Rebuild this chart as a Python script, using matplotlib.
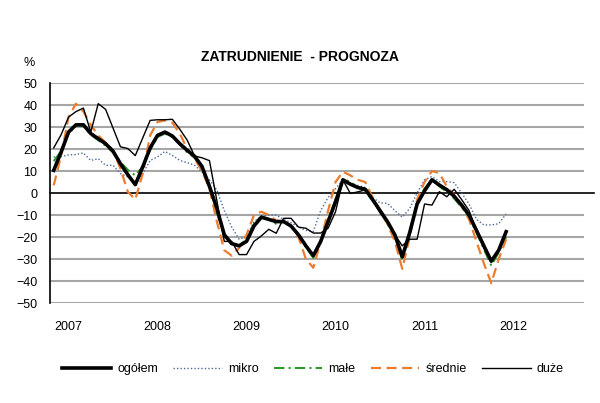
import matplotlib
matplotlib.use("Agg")
import matplotlib.pyplot as plt
import numpy as np

plt.rcParams['font.family'] = ['Liberation Sans', 'DejaVu Sans']

# monthly data, first point = Nov 2006, last = Dec 2011
ogolem = [10.3, 18.6, 27.7, 31, 31, 27, 24.7, 22.4, 19, 13.3, 8.3, 3.8,
          11.8, 20.5, 26.2, 27.7, 25.9, 22.4, 19.4, 16.7, 12, 3, -7, -19,
          -23, -24, -22, -15, -11, -12, -13, -13, -15, -19, -24, -28.5,
          -22, -13, -4, 6, 4, 2.5, 1.7, -3, -8, -13, -19, -29,
          -18, -5, 1, 6, 3.6, 1.5, -1.5, -5.5, -10, -17, -24, -31,
          -26, -17.6]
mikro = [16.4, 16.5, 17.3, 17.5, 18.2, 14.8, 15.6, 12.6, 12.6, 8.8, 7.3, 5,
         8.8, 14.8, 16.4, 18.9, 17.1, 14.8, 13.8, 12.6, 9.5, 6, 1.4, -8,
         -15.5, -21, -19.8, -13, -10.5, -10, -10, -12, -13.5, -15.5, -17, -17.5,
         -8, -2, 2, 6, 4.4, 3.5, 2.5, -2, -4.5, -4.7, -8, -11,
         -7, 0, 6, 7.5, 5.2, 5.2, 4.7, 0, -5, -12, -14.5, -14.5,
         -14, -9.5]
male = [14.5, 19, 27, 30.5, 30.5, 26.5, 24, 21.5, 18.5, 14, 10.5, 8,
        12, 19.5, 25.5, 27, 25.5, 22, 18.5, 16, 11, 3, -9, -19,
        -23.5, -24, -21, -14, -10.5, -12, -14, -13, -15, -19.5, -24.5, -29.5,
        -22, -12, -3, 6.5, 5, 2.5, 1, -3.5, -8.5, -14, -20, -30.5,
        -18, -4, 2, 6, 3, 0.5, -2.5, -6.5, -11, -18, -25.5, -33,
        -27, -20]
srednie = [3.5, 17, 34.5, 40.6, 37, 31, 26.2, 22.9, 19.4, 11, 0.5, -3,
           8.8, 26.2, 32.3, 33, 32, 27, 20, 15.6, 10, 2, -13, -26,
           -28.5, -25, -19, -10, -8.5, -10, -12.5, -13, -15, -20, -30, -34,
           -22, -8, 5, 9.7, 8, 6, 5, -2, -8, -14, -22, -34.5,
           -20, -3, 5, 10, 9, 3, -1, -6, -12, -22, -32, -41,
           -30, -21]
duze = [20.5, 26.5, 34.5, 37, 38.6, 27.7, 40.6, 38, 29.5, 21, 20.2, 17,
        25, 33, 33.3, 33.3, 33.5, 29, 24, 16.8, 16, 14.7, -3.5, -22,
        -22, -28, -28, -22, -19.5, -16.5, -18.3, -11.5, -11.5, -15.5, -16, -18.2,
        -18.2, -16, -8.5, 5.9, -0.2, 0.5, 1.4, -3, -9, -13, -19, -24,
        -21, -21, -5, -5.5, 0.6, -1.7, 1.7, -3, -8, -17, -25, -31,
        -26, -18]

years = ['2007', '2008', '2009', '2010', '2011', '2012']
year_pos = [2, 14, 26, 38, 50, 62]
n_months = 72

x = np.arange(len(ogolem))

fig = plt.figure(figsize=(6, 4.03), dpi=100)
ax = fig.add_axes([50/600, 100/403, 534/600, 220/403])

for v in range(-50, 51, 10):
    if v != 0:
        ax.axhline(v, color='#a6a6a6', lw=1.5, zorder=1)
ax.plot([-0.5, n_months + 0.8], [0, 0], color='black', lw=1.2, zorder=2, clip_on=False)

ax.plot(x, ogolem, color='black', lw=2.6, label='ogółem', zorder=7)
ax.plot(x, mikro, color='#4a6b9a', lw=1.0, ls=(0, (1, 1.5)), label='mikro', zorder=3)
ax.plot(x, male, color='#2b9a2b', lw=1.5, ls=(0, (5, 2, 1, 2)), label='małe', zorder=4)
ax.plot(x, srednie, color='#ec7c30', lw=1.6, ls=(0, (4.5, 2.5)), label='średnie', zorder=5)
ax.plot(x, duze, color='black', lw=1.0, label='duże', zorder=6)

ax.set_xlim(-0.5, n_months - 0.5)
ax.set_ylim(-50, 50)
ax.set_yticks(range(-50, 51, 10))
ax.set_xticks(year_pos)
ax.set_xticklabels(years)
ax.tick_params(axis='both', length=0, labelsize=9)
ax.tick_params(axis='x', pad=13)
ax.tick_params(axis='y', pad=9)
for s in ['top', 'right', 'bottom']:
    ax.spines[s].set_visible(False)
ax.spines['left'].set_color('black')
ax.spines['left'].set_linewidth(1.2)

fig.text(29/600, 1 - 63/403, '%', ha='center', va='center', fontsize=9)
fig.text(300/600, 1 - 57/403, 'ZATRUDNIENIE  - PROGNOZA', ha='center', va='center',
         fontsize=10, fontweight='bold')

fig.legend(loc='center', bbox_to_anchor=(313/600, 1 - 369/403), ncol=5, frameon=False,
           fontsize=9, handlelength=3.9, columnspacing=1.2, handletextpad=0.5)

fig.savefig('out.png', dpi=100)
